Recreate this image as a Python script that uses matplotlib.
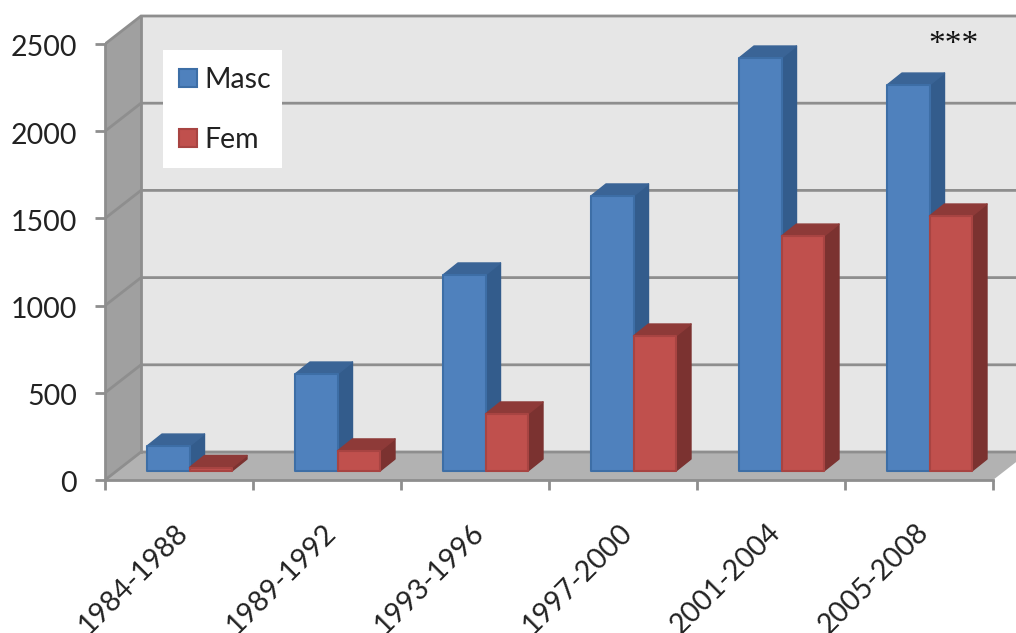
import numpy as np
import matplotlib
matplotlib.use("Agg")
import matplotlib.pyplot as plt
from matplotlib.patches import Polygon, Rectangle
from matplotlib.transforms import ScaledTranslation

categories = ["1984-1988", "1989-1992", "1993-1996", "1997-2000", "2001-2004", "2005-2008"]
masc = [143, 556, 1124, 1577, 2368, 2213]
fem = [20, 115, 327, 774, 1347, 1462]
y_ticks = [0, 500, 1000, 1500, 2000, 2500]

BLUE = ("#4F81BD", "#335C8C", "#3A6496", "#3D6EA6")
RED = ("#C0504D", "#7B3230", "#8E3A38", "#A84442")
GRID = "#8E8E8E"

plt.rcParams["font.family"] = ["Lato", "DejaVu Sans"]

W, H = 1016, 633
fig = plt.figure(figsize=(W / 100, H / 100), dpi=100, facecolor="white")
# axes origin sits on the front corner of the 3d box
ax = fig.add_axes([105 / W, (H - 480) / H, (W - 105) / W, 480 / H])
px_x = 1 / 148       # one category is 148 px wide
px_y = 2500 / 436    # 2500 units take 436 px
ax.set_xlim(0, (W - 105) * px_x)
ax.set_ylim(0, 480 * px_y)
ax.patch.set_visible(False)

back_x, back_y = 36 * px_x, 28 * px_y    # depth of the box
right = len(categories)


def poly(pts, fc, ec="none", lw=0, z=1):
    ax.add_patch(Polygon(pts, closed=True, fc=fc, ec=ec, lw=lw, zorder=z, clip_on=True, joinstyle="round"))


# walls
top = 2500 + back_y
poly([(back_x, back_y), (right + back_x, back_y), (right + back_x, top), (back_x, top)], "#E6E6E6")
poly([(0, 0), (back_x, back_y), (back_x, top), (0, 2500)], "#A0A0A0")
poly([(0, 0), (right, 0), (right + back_x, back_y), (back_x, back_y)], "#B2B2B2")

for v in y_ticks:
    ax.plot([0, back_x, right + back_x], [v, v + back_y, v + back_y], color=GRID, lw=2, zorder=2,
            solid_joinstyle="miter")
ax.plot([back_x, back_x], [back_y, top], color=GRID, lw=2, zorder=2)

# bars
bar_w = 42.5 * px_x
off_x, off_y = 10.5 * px_x, 9 * px_y    # front of the bars from the front of the box
dep_x, dep_y = 15 * px_x, 12 * px_y     # depth of one bar


def bar3d(x0, val, colors):
    x1 = x0 + bar_w
    y0 = off_y
    y1 = off_y + val
    front, side, cap, edge = colors
    poly([(x1, y0), (x1 + dep_x, y0 + dep_y), (x1 + dep_x, y1 + dep_y), (x1, y1)], side, side, 1, 3)
    poly([(x0, y1), (x1, y1), (x1 + dep_x, y1 + dep_y), (x0 + dep_x, y1 + dep_y)], cap, cap, 1, 3)
    poly([(x0, y0), (x1, y0), (x1, y1), (x0, y1)], front, edge, 1.5, 3)


for i in range(len(categories)):
    center = i + 0.5 + off_x
    bar3d(center - bar_w, masc[i], BLUE)
    bar3d(center, fem[i], RED)

# axes
for s in ["top", "right"]:
    ax.spines[s].set_visible(False)
for s in ["left", "bottom"]:
    ax.spines[s].set_color(GRID)
    ax.spines[s].set_linewidth(2)
    ax.spines[s].set_zorder(4)
ax.spines["left"].set_bounds(0, 2500)
ax.spines["bottom"].set_bounds(0, right)
ax.set_yticks(y_ticks)
ax.set_xticks(range(right + 1))
ax.set_xticklabels([])
ax.tick_params(axis="both", which="major", color=GRID, width=2, length=7, labelsize=20.5, labelcolor="#222222", pad=13)
ax.set_xticks(np.arange(right) + 0.5, minor=True)
ax.set_xticklabels(categories, minor=True, rotation=45, ha="right", va="top", rotation_mode="anchor",
                   fontsize=20.5, color="#222222")
ax.tick_params(axis="x", which="minor", length=0, pad=28)
shift = ScaledTranslation(-4 / 100, 0, fig.dpi_scale_trans)
for lab in ax.get_xticklabels(minor=True):
    lab.set_transform(lab.get_transform() + shift)
# tick numbers sit a touch low in the original
down = ScaledTranslation(0, -2 / 100, fig.dpi_scale_trans)
for lab in ax.get_yticklabels():
    lab.set_transform(lab.get_transform() + down)

# legend drawn by hand, the original is a white box over the wall
fig.add_artist(Rectangle((163 / W, 1 - 168 / H), 119 / W, 118 / H, fc="white", ec="none", zorder=5))
for name, colors, yc in [("Masc", BLUE, 78), ("Fem", RED, 138)]:
    fig.add_artist(Rectangle((179 / W, 1 - (yc + 9) / H), 18 / W, 18 / H, fc=colors[0], ec=colors[3], lw=1.5, zorder=6))
    fig.text(204 / W, 1 - (yc + 2) / H, name, fontsize=20.5, va="center", ha="left", color="#222222", zorder=6)

fig.text(953 / W, 1 - 45 / H, "***", fontsize=24, family="Liberation Serif", ha="center", va="center", color="#111111", zorder=6)

fig.savefig("out.png", dpi=100)
